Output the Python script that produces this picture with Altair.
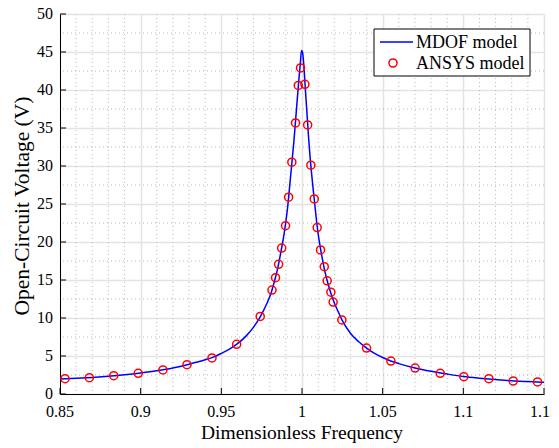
import altair as alt
import pandas as pd

# ---------------- data ----------------
curve_x = [0.850, 0.860, 0.870, 0.880, 0.890, 0.900, 0.910, 0.920, 0.930, 0.940,
           0.945, 0.950, 0.955, 0.960, 0.965, 0.970, 0.974, 0.978, 0.981, 0.983,
           0.985, 0.987, 0.989, 0.991, 0.993, 0.995, 0.997, 0.998, 0.999, 0.9997,
           1.0003, 1.001, 1.002, 1.003, 1.004, 1.005, 1.006, 1.007, 1.008, 1.009,
           1.010, 1.012, 1.014, 1.016, 1.018, 1.020, 1.0225, 1.025, 1.030, 1.035,
           1.040, 1.045, 1.050, 1.055, 1.060, 1.070, 1.080, 1.090, 1.100, 1.110,
           1.120, 1.130, 1.140, 1.150]
curve_y = [1.96, 2.07, 2.18, 2.33, 2.52, 2.76, 3.05, 3.42, 3.92, 4.50,
           4.85, 5.35, 5.90, 6.62, 7.55, 8.80, 10.1, 11.8, 13.4, 14.9,
           16.6, 18.8, 21.2, 24.4, 28.8, 33.3, 38.6, 41.2, 43.6, 45.2,
           45.0, 43.6, 40.4, 37.2, 34.0, 31.2, 28.9, 26.8, 24.8, 22.8,
           21.1, 18.5, 16.3, 14.6, 13.2, 12.0, 10.8, 9.65, 8.0, 6.9,
           6.05, 5.35, 4.8, 4.35, 4.0, 3.42, 2.98, 2.62, 2.30, 2.08,
           1.90, 1.74, 1.63, 1.53]

ansys_x = [0.8531, 0.8682, 0.8833, 0.8985, 0.9138, 0.9287, 0.9442, 0.9595, 0.9741,
           0.9814, 0.9836, 0.9855, 0.9874, 0.9898, 0.9917, 0.9937, 0.9960, 0.9977,
           0.9991, 1.0018, 1.0035, 1.0055, 1.0076, 1.0094, 1.0115, 1.0138, 1.0156,
           1.0179, 1.0193, 1.0247, 1.0400, 1.0551, 1.0701, 1.0857, 1.1003, 1.1158,
           1.1309, 1.1460]
ansys_y = [2.01, 2.15, 2.41, 2.72, 3.16, 3.86, 4.74, 6.54, 10.2,
           13.68, 15.3, 17.06, 19.2, 22.15, 25.9, 30.5, 35.66, 40.6,
           42.9, 40.75, 35.4, 30.1, 25.66, 21.9, 18.95, 16.75, 14.9,
           13.4, 12.1, 9.74, 6.05, 4.34, 3.42, 2.72, 2.28, 2.01,
           1.71, 1.58]

x_major = [0.85, 0.9, 0.95, 1.0, 1.05, 1.1, 1.15]
x_labels = ["0.85", "0.9", "0.95", "1", "1.05", "1.1", "1.15"]
y_major = [0, 5, 10, 15, 20, 25, 30, 35, 40, 45, 50]
y_labels = ["0", "5", "10", "15", "20", "25", "30", "35", "40", "45", "50"]
x_minor = [0.86, 0.87, 0.88, 0.89, 0.91, 0.92, 0.93, 0.94, 0.96, 0.97, 0.98, 0.99,
           1.01, 1.02, 1.03, 1.04, 1.06, 1.07, 1.08, 1.09, 1.11, 1.12, 1.13, 1.14]
y_minor = [2.5, 7.5, 12.5, 17.5, 22.5, 27.5, 32.5, 37.5, 42.5, 47.5]
legend_labels = ["MDOF model", "ANSYS model"]

x_title = "Dimensionless Frequency"
y_title = "Open-Circuit Voltage (V)"

# ---------------- tables ----------------
curve_df = pd.DataFrame({"x": curve_x, "y": curve_y})
ansys_df = pd.DataFrame({"x": ansys_x, "y": ansys_y})
xmaj_df = pd.DataFrame({"x": x_major, "label": x_labels})
ymaj_df = pd.DataFrame({"y": y_major, "label": y_labels})
xmin_df = pd.DataFrame({"x": x_minor})
ymin_df = pd.DataFrame({"y": y_minor})
leg1_df = pd.DataFrame({"label": [legend_labels[0]]})
leg2_df = pd.DataFrame({"label": [legend_labels[1]]})
xt_df = pd.DataFrame({"label": [x_title]})
yt_df = pd.DataFrame({"label": [y_title]})

FONT = "Liberation Serif"

xscale = alt.Scale(domain=[0.85, 1.15], nice=False, zero=False)
yscale = alt.Scale(domain=[0, 50], nice=False, zero=False)

xaxis = alt.Axis(values=x_major, title=None, grid=True, labels=False,
                 ticks=False, domainColor="black", domainWidth=1,
                 gridColor="#e3e3e3", gridWidth=1.5)
yaxis = alt.Axis(values=y_major, title=None, grid=True, labels=False,
                 ticks=False, domainColor="black", domainWidth=1,
                 gridColor="#e3e3e3", gridWidth=1.5)

X = lambda: alt.X("x:Q", scale=xscale, axis=xaxis)
Y = lambda: alt.Y("y:Q", scale=yscale, axis=yaxis)

minor_x = alt.Chart(xmin_df).mark_rule(color="#b8b8b8", strokeWidth=1,
                                        strokeDash=[1, 3]).encode(x=X())
minor_y = alt.Chart(ymin_df).mark_rule(color="#b8b8b8", strokeWidth=1,
                                        strokeDash=[1, 3]).encode(y=Y())

ticks_x = alt.Chart(xmaj_df).mark_rule(color="black", strokeWidth=1).encode(
    x=X(), y=alt.value(380), y2=alt.value(374))
ticks_y = alt.Chart(ymaj_df).mark_rule(color="black", strokeWidth=1).encode(
    y=Y(), x=alt.value(0), x2=alt.value(6))

labels_x = alt.Chart(xmaj_df).mark_text(font=FONT, fontSize=16, align="center",
                                         baseline="alphabetic", color="black").encode(
    x=X(), y=alt.value(403), text="label:N")
labels_y = alt.Chart(ymaj_df).mark_text(font=FONT, fontSize=16, align="right",
                                         baseline="middle", color="black").encode(
    y=Y(), x=alt.value(-7), text="label:N")

title_x = alt.Chart(xt_df).mark_text(font=FONT, fontSize=19.5, align="center",
                                      baseline="alphabetic", color="black").encode(
    x=alt.value(242), y=alt.value(425), text="label:N")
title_y = alt.Chart(yt_df).mark_text(font=FONT, fontSize=21.5, align="center",
                                      baseline="alphabetic", angle=270, color="black").encode(
    x=alt.value(-31), y=alt.value(192), text="label:N")

line = alt.Chart(curve_df).mark_line(color="#0000ff", strokeWidth=1.5,
                                      interpolate="monotone").encode(x=X(), y=Y())
points = alt.Chart(ansys_df).mark_point(shape="circle", filled=False, color="#ff0000",
                                         size=65, strokeWidth=1.5, opacity=1).encode(x=X(), y=Y())

leg_box = alt.Chart(leg1_df).mark_rect(fill="white", stroke="black", strokeWidth=1).encode(
    x=alt.value(314), x2=alt.value(470), y=alt.value(15), y2=alt.value(62))
leg_line = alt.Chart(leg1_df).mark_rule(color="#0000ff", strokeWidth=1.5).encode(
    x=alt.value(320), x2=alt.value(353), y=alt.value(28))
leg_pt = alt.Chart(leg2_df).mark_point(shape="circle", filled=False, color="#ff0000",
                                        size=65, strokeWidth=1.5, opacity=1).encode(
    x=alt.value(333), y=alt.value(49))
leg_t1 = alt.Chart(leg1_df).mark_text(font=FONT, fontSize=18, align="left",
                                       baseline="alphabetic", color="black").encode(
    x=alt.value(356), y=alt.value(34), text="label:N")
leg_t2 = alt.Chart(leg2_df).mark_text(font=FONT, fontSize=18, align="left",
                                       baseline="alphabetic", color="black").encode(
    x=alt.value(356), y=alt.value(55), text="label:N")

chart = alt.layer(
    minor_x, minor_y, ticks_x, ticks_y, labels_x, labels_y, title_x, title_y,
    line, points, leg_box, leg_line, leg_pt, leg_t1, leg_t2
).properties(
    width=484, height=380,
    autosize=alt.AutoSizeParams(type="none"),
    padding={"left": 52, "top": 6, "right": 7, "bottom": 54},
).configure(
    background="white"
).configure_view(
    stroke=None
)

chart.save("out.html", embed_options={"renderer": "svg", "actions": False})
